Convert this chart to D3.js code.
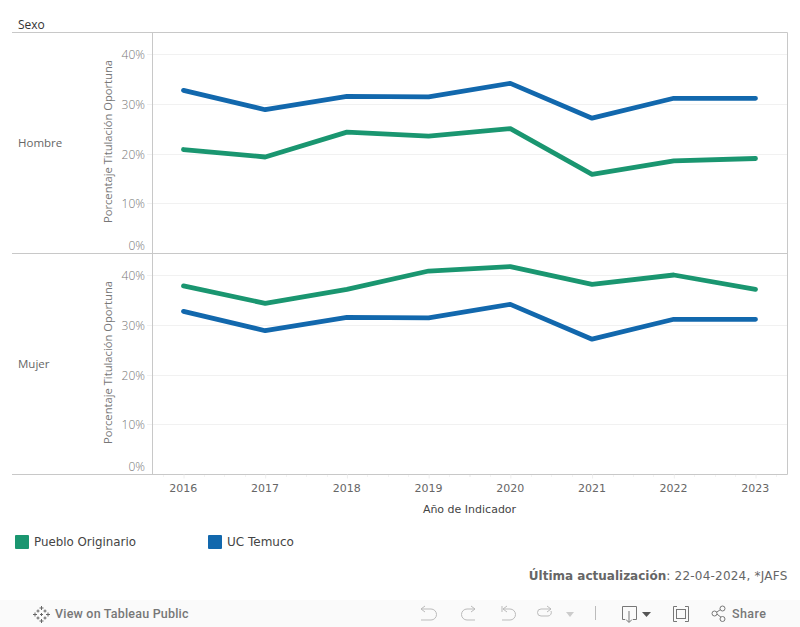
<!DOCTYPE html>
<html><head><meta charset="utf-8">
<script src="https://cdn.jsdelivr.net/npm/d3@7/dist/d3.min.js"></script>
<style>
html,body{margin:0;padding:0;background:#fff;overflow:hidden}
svg{display:block;font-family:"Open Sans",sans-serif}
</style></head><body>
<svg id="c" width="800" height="627"></svg>
<script>
const years=[2016,2017,2018,2019,2020,2021,2022,2023];
const ucTemuco=[32.8,28.9,31.6,31.5,34.2,27.2,31.2,31.2];
const puebloHombre=[20.9,19.4,24.4,23.6,25.1,15.9,18.6,19.1];
const puebloMujer=[37.9,34.4,37.2,40.9,41.8,38.2,40.1,37.2];
const valueTicks=[0,10,20,30,40];
const panelNames=["Hombre","Mujer"];
const legendNames=["Pueblo Originario","UC Temuco"];
const colours={"Pueblo Originario":"#1a9670","UC Temuco":"#1268ad"};

const svg=d3.select("#c");
const x=d3.scalePoint().domain(years).range([183.5,755.5]);
const DV='"DejaVu Sans",sans-serif';
const panels=[
 {name:panelNames[0],top:32.5,bottom:253.5,pueblo:puebloHombre},
 {name:panelNames[1],top:253.5,bottom:474.5,pueblo:puebloMujer}
];
const line=y=>d3.line().x((d,i)=>x(years[i])).y(d=>y(d));
svg.append("rect").attr("x",0).attr("y",600).attr("width",800).attr("height",27).attr("fill","#fafafa");

panels.forEach(p=>{
  const y=d3.scaleLinear().domain([0,40]).range([p.bottom,p.bottom-199]);
  const g=svg.append("g");
  g.selectAll("line.grid").data(valueTicks.slice(1)).join("line")
    .attr("x1",153).attr("x2",787).attr("y1",d=>Math.floor(y(d))+.5).attr("y2",d=>Math.floor(y(d))+.5)
    .attr("stroke","#f1f1f1");
  g.selectAll("line.tick").data(valueTicks.slice(1)).join("line")
    .attr("x1",147).attr("x2",152).attr("y1",d=>Math.floor(y(d))+.5).attr("y2",d=>Math.floor(y(d))+.5)
    .attr("stroke","#f1f1f1");
  g.selectAll("text.tick").data(valueTicks).join("text")
    .attr("x",145).attr("y",d=>d===0?y(d)-4:y(d)+4.5).attr("text-anchor","end")
    .attr("font-size",12).attr("font-weight",300).attr("fill","#777").text(d=>d+"%");
  g.append("text").attr("transform",`translate(112,${p.top+109}) rotate(-90)`)
    .attr("text-anchor","middle").attr("font-size",11.2).attr("fill","#777").text("Porcentaje Titulación Oportuna");
  g.append("text").attr("x",18).attr("y",p.top+114.5).attr("font-size",11.5).attr("fill","#666").text(p.name);
  [[legendNames[0],p.pueblo],[legendNames[1],ucTemuco]].forEach(([n,v])=>{
    g.append("path").attr("d",line(y)(v)).attr("fill","none").attr("stroke",colours[n])
      .attr("stroke-width",4.8).attr("stroke-linecap","round").attr("stroke-linejoin","round");
  });
});
// frame
const rule="#c8c8c8";
[[12,787.5,32.5,32.5],[12,787.5,253.5,253.5],[12,787.5,474.5,474.5],[152.5,152.5,32.5,474.5],[787.5,787.5,32.5,474.5]]
 .forEach(l=>svg.append("line").attr("x1",l[0]).attr("x2",l[1]).attr("y1",l[2]).attr("y2",l[3]).attr("stroke",rule));
svg.append("text").attr("x",18).attr("y",29).attr("font-size",12).attr("fill","#333").text("Sexo");
// x axis with faint quarter ticks
const stepX=x.step();
const minorOffsets=[-0.75,-0.5,-0.25,0.25,0.5,0.75];
const minor=svg.append("g").attr("stroke","#f3f3f3");
years.forEach(yr=>minorOffsets.forEach(k=>{
  const px=Math.round(x(yr)+k*stepX)+.5;
  if(px>153&&px<787) minor.append("line").attr("x1",px).attr("x2",px).attr("y1",475).attr("y2",477);
}));
const xa=d3.axisBottom(x).tickSize(4).tickPadding(5);
const ax=svg.append("g").attr("transform","translate(0,474.5)").call(xa);
ax.select(".domain").remove();
ax.selectAll("line").attr("stroke","#eeeeee");
ax.selectAll("text").style("font-family",DV).style("font-size","11px").attr("fill","#666").attr("dy",null).attr("y",17).attr("x",-0.7);
svg.append("text").attr("x",469.5).attr("y",513).attr("text-anchor","middle")
  .style("font-family",DV).attr("font-size",11).attr("fill","#444").text("Año de Indicador");
// legend
const lg=[{n:legendNames[0],x:15,tx:34,fs:11.85},{n:legendNames[1],x:208,tx:227,fs:12}];
lg.forEach(l=>{
  svg.append("rect").attr("x",l.x).attr("y",535).attr("width",14).attr("height",14).attr("rx",1).attr("fill",colours[l.n]);
  svg.append("text").attr("x",l.tx).attr("y",546).style("font-family",DV).attr("font-size",l.fs).attr("fill","#444").text(l.n);
});
// note
const note=svg.append("text").attr("x",787.5).attr("y",580).attr("text-anchor","end").style("font-family",DV).attr("font-size",12).attr("fill","#666");
note.append("tspan").attr("font-weight","bold").text("Última actualización");
note.append("tspan").attr("letter-spacing",0.22).text(": 22-04-2024, *JAFS");
// toolbar
const tb=svg.append("g").attr("fill","none").attr("stroke","#777").attr("stroke-width",1);
const T="Roboto,sans-serif";
svg.append("text").attr("x",55).attr("y",618).attr("letter-spacing",0.2).style("font-family",T).attr("font-size",12.5).attr("font-weight",500).attr("fill","#777").text("View on Tableau Public");
svg.append("text").attr("x",732).attr("y",618).attr("letter-spacing",0.4).style("font-family",T).attr("font-size",12.5).attr("font-weight",500).attr("fill","#777").text("Share");
// tableau logo
const lo=tb.append("g").attr("transform","translate(41.500,614.500)").attr("stroke","#666");
[[0,-6.5,2],[0,6.5,2],[-6.5,0,2],[6.5,0,2],[-3.5,-3.5,1.5],[3.5,-3.5,1.5],[-3.5,3.5,1.5],[3.5,3.5,1.5],[0,0,1.5]].forEach(([a,b,s])=>{
  lo.append("path").attr("d",`M${a-s} ${b}H${a+s}M${a} ${b-s}V${b+s}`);
});
// disabled icons
const dis=tb.append("g").attr("stroke","#bbb");
dis.append("path").attr("d","M421 609H431a5.5 5.5 0 0 1 0 11H421M421 609l4-3M421 609l4 3");
dis.append("path").attr("d","M475 609H467a5.5 5.5 0 0 0 0 11H475M475 609l-4-3M475 609l-4 3");
dis.append("path").attr("d","M502 606V612M503 609H510a5.5 5.5 0 0 1 0 11H502M503 609l4-3M503 609l4 3");
dis.append("path").attr("d","M551 609H541a3.5 3.5 0 0 0 0 7H548a3.5 3.5 0 0 0 3-5M551 609l-4-3M551 609l-4 3");
svg.append("path").attr("d","M566 612h8l-4 5z").attr("fill","#ccc");
svg.append("line").attr("x1",595.5).attr("x2",595.5).attr("y1",606).attr("y2",620).attr("stroke","#bbb");
// download
tb.append("path").attr("d","M629 622V611M626 619.500l3 3 3-3");
tb.append("path").attr("d","M625 619.500H622.500V606.500H636.500V619.500H633");
svg.append("path").attr("d","M642 612h9l-4.500 5z").attr("fill","#555");
// fullscreen
tb.append("path").attr("d","M677 606.500H673.500V621.500H677M685 606.500H688.500V621.500H685");
tb.append("rect").attr("x",676.5).attr("y",609.500).attr("width",9).attr("height",9);
// share
tb.append("path").attr("d","M722 608.500L715.500 613L722 618");
[[722.500,608.500],[714.500,613.500],[722.500,619]].forEach(c=>tb.append("circle").attr("cx",c[0]).attr("cy",c[1]).attr("r",2.5).attr("fill","#fafafa"));
</script></body></html>
